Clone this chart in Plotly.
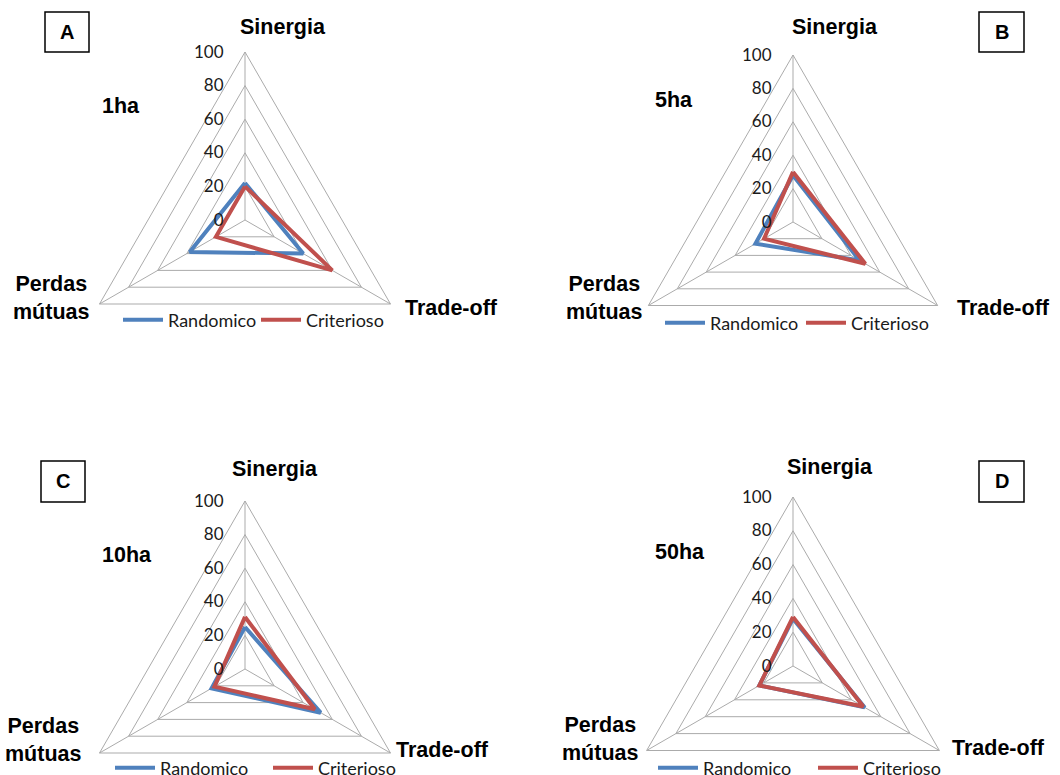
import plotly.graph_objects as go

# Radar chart data: share (%) of each interaction type by scenario and patch size
categorias = ["Sinergia", "Trade-off", "Perdas mútuas"]
escalas = ["1ha", "5ha", "10ha", "50ha"]
paineis = ["A", "B", "C", "D"]
randomico = [
    [22, 40, 38],   # 1ha
    [28, 46, 26],   # 5ha
    [25, 52, 23],   # 10ha
    [28, 49, 23],   # 50ha
]
criterioso = [
    [20, 60, 20],   # 1ha
    [30, 50, 20],   # 5ha
    [31, 48, 21],   # 10ha
    [29, 48, 23],   # 50ha
]
ticks_r = [0, 20, 40, 60, 80, 100]

# the lower panels run past the bottom of the window, as in the original figure
W, H = 1060, 840
AZUL = "#4F81BD"
VERMELHO = "#C0504D"
GRADE = "#ABABAB"
TEXTO = "#1a1a1a"
BOLD = "Liberation Sans"
REG = "Lato"


def fx(px):
    return px / W


def fy(py):
    return 1 - py / H


# layout of each panel: centre (px), radius (px)
centros = [(245, 220, 168), (793, 222, 167), (245, 669, 168), (793, 666, 169)]
# legend placement: line start x, centre y, distance between entries
legendas = [(125, 320, 135), (667, 323, 138), (117, 768, 155), (660, 768, 157)]

fig = go.Figure()
layout = dict(
    width=W, height=H,
    margin=dict(l=0, r=0, t=0, b=0, autoexpand=False),
    paper_bgcolor="white",
    plot_bgcolor="white",
    annotations=[], shapes=[],
)

for i in range(4):
    pid = "polar" if i == 0 else f"polar{i + 1}"
    lid = "legend" if i == 0 else f"legend{i + 1}"
    for nome, serie, cor in (("Randomico", randomico[i], AZUL),
                             ("Criterioso", criterioso[i], VERMELHO)):
        fig.add_trace(go.Scatterpolar(
            r=serie + serie[:1],
            theta=categorias + categorias[:1],
            mode="lines",
            name=nome,
            line=dict(color=cor, width=4),
            subplot=pid,
            legend=lid,
            hoverinfo="skip",
        ))
    cx, cy, rad = centros[i]
    layout[pid] = dict(
        domain=dict(x=[fx(cx - rad), fx(cx + rad)], y=[fy(cy + rad), fy(cy - rad)]),
        bgcolor="rgba(0,0,0,0)",
        gridshape="linear",
        angularaxis=dict(
            type="category", categoryarray=categorias,
            rotation=90, direction="clockwise",
            showticklabels=False, ticks="",
            showline=True, linecolor=GRADE, linewidth=1,
            showgrid=True, gridcolor=GRADE, gridwidth=1,
        ),
        radialaxis=dict(
            range=[0, 100], tickvals=ticks_r, ticktext=[str(t) for t in ticks_r],
            angle=90, side="counterclockwise", tickangle=90,
            showline=False, ticks="outside", ticklen=15,
            tickcolor="rgba(0,0,0,0)", showgrid=True,
            gridcolor=GRADE, gridwidth=1,
            tickfont=dict(family=REG, size=17, color=TEXTO),
        ),
    )
    lx, ly, passo = legendas[i]
    layout[lid] = dict(
        orientation="h", x=fx(lx - 7), y=fy(ly), xanchor="left", yanchor="middle",
        bgcolor="rgba(0,0,0,0)", font=dict(family=REG, size=18, color=TEXTO),
        itemwidth=40, entrywidth=passo - 52, entrywidthmode="pixels",
        traceorder="normal",
    )

# axis category labels, scale labels and panel letters
rotulos = [
    # (texto, x, y, xanchor)
    ("Sinergia", 283, 27, "center"), ("Trade-off", 451, 308, "center"),
    ("Perdas<br>mútuas", 51, 298, "center"), ("1ha", 100, 106, "left"),
    ("Sinergia", 835, 27, "center"), ("Trade-off", 1003, 308, "center"),
    ("Perdas<br>mútuas", 604, 298, "center"), ("5ha", 653, 100, "left"),
    ("Sinergia", 275, 469, "center"), ("Trade-off", 442, 750, "center"),
    ("Perdas<br>mútuas", 43, 740, "center"), ("10ha", 100, 555, "left"),
    ("Sinergia", 830, 467, "center"), ("Trade-off", 998, 748, "center"),
    ("Perdas<br>mútuas", 600, 739, "center"), ("50ha", 653, 552, "left"),
]
for txt, x, y, xa in rotulos:
    layout["annotations"].append(dict(
        text=f"<b>{txt}</b>", x=fx(x), y=fy(y), xref="paper", yref="paper",
        xanchor=xa, yanchor="middle", showarrow=False,
        font=dict(family=BOLD, size=21.5, color="black"),
    ))

caixas = [(45, 12, 89, 52), (979, 12, 1024, 52), (41, 461, 85, 502), (979, 461, 1024, 502)]
for letra, (x0, y0, x1, y1) in zip(paineis, caixas):
    layout["shapes"].append(dict(
        type="rect", xref="paper", yref="paper",
        x0=fx(x0), x1=fx(x1), y0=fy(y1), y1=fy(y0),
        line=dict(color="black", width=1.5), fillcolor="white",
    ))
    layout["annotations"].append(dict(
        text=f"<b>{letra}</b>", x=fx((x0 + x1) / 2), y=fy((y0 + y1) / 2),
        xref="paper", yref="paper", xanchor="center", yanchor="middle",
        showarrow=False, font=dict(family=BOLD, size=20, color="black"),
    ))

fig.update_layout(**layout)
fig.write_html("out.html")
